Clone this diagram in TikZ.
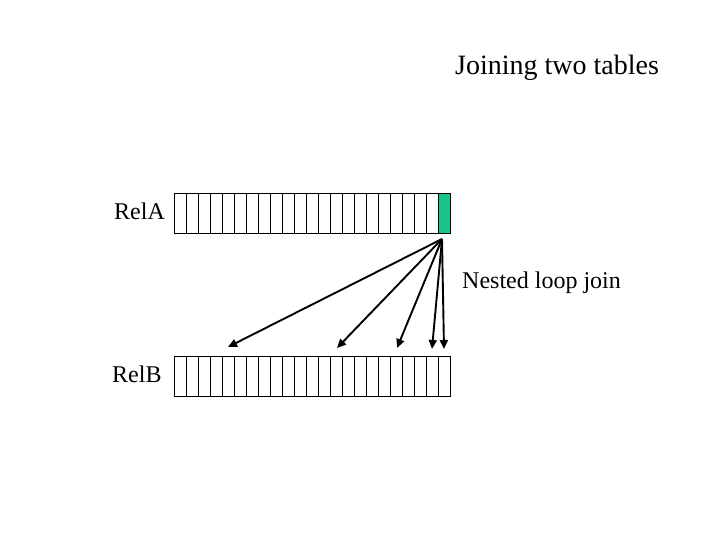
\documentclass[tikz,border=0pt]{standalone}
\usepackage{fontspec}
\setmainfont{Liberation Serif}
\usetikzlibrary{arrows.meta}
\definecolor{cellgreen}{RGB}{24,196,140}
\tikzset{
  cellbox/.style={draw=black, line width=0.8pt, minimum width=12pt, minimum height=40pt, inner sep=0pt, outer sep=0pt},
  lbl/.style={inner sep=0pt, font=\fontsize{24}{28}\selectfont},
  joinarrow/.style={line width=1.9pt, -{Triangle[length=9pt,width=8pt]}}
}
\begin{document}
\begin{tikzpicture}[x=1pt,y=-1pt]
\useasboundingbox (0,0) rectangle (720,540);
% title
\node[lbl, anchor=base west, font=\fontsize{28}{32}\selectfont] (title) at (455,75) {Joining two tables};
% table A
\foreach \i in {0,...,22} {
  \node[cellbox, anchor=north west] (a\i) at (174+12*\i,193) {};
}
\node[cellbox, anchor=north west, fill=cellgreen] (a22) at (174+12*22,193) {};
% table B
\foreach \i in {0,...,22} {
  \node[cellbox, anchor=north west] (b\i) at (174+12*\i,356) {};
}
% labels
\node[lbl, anchor=base west] (relA) at (114,219) {RelA};
\node[lbl, anchor=base west] (relB) at (112,382) {RelB};
\node[lbl, anchor=base west] (nlj) at (462,288) {Nested loop join};
% arrows
\coordinate (src) at (442,239);
\coordinate (t1) at (228,347);
\coordinate (t2) at (337,348);
\coordinate (t3) at (397,348);
\coordinate (t4) at (432,349);
\coordinate (t5) at (444,349);
\foreach \t in {t1,t2,t3,t4,t5} {
  \draw[joinarrow] (src) -- (\t);
}
\end{tikzpicture}
\end{document}
